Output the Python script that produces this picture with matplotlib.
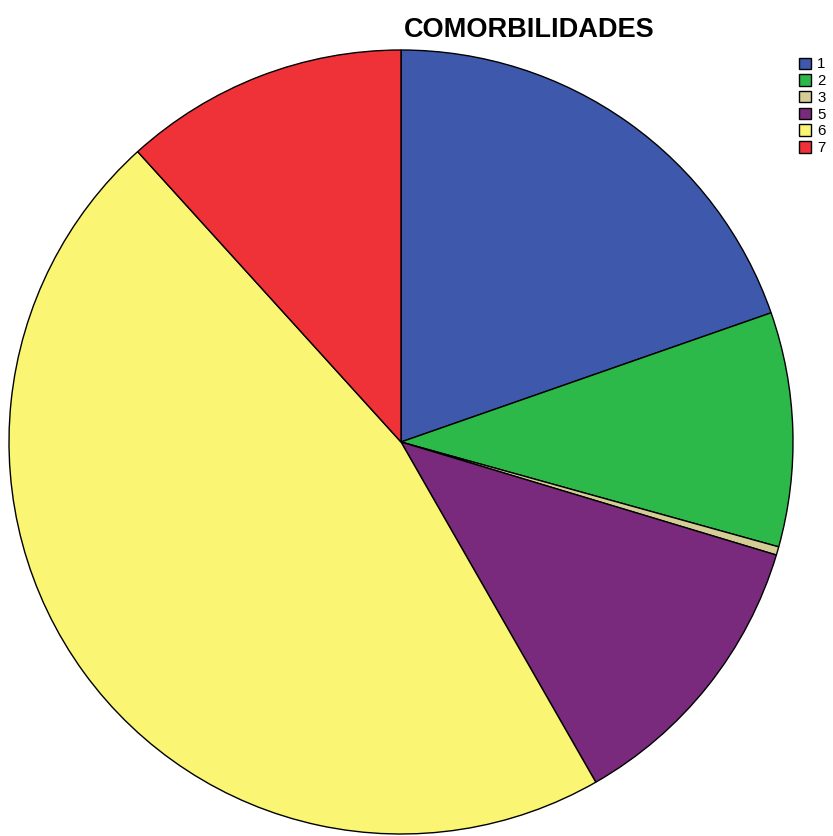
import matplotlib
matplotlib.use('Agg')
import matplotlib.pyplot as plt

# Pie data (counts)
CATEGORIES = ['1', '2', '3', '5', '6', '7']
COUNTS = [57, 28, 1, 35, 135, 34]
COLORS = ['#3E58AC', '#2DB84A', '#D4CE96', '#7A2A7C', '#FAF674', '#EF3238']

plt.rcParams['font.family'] = ['Liberation Sans', 'DejaVu Sans']

fig = plt.figure(figsize=(8.33, 8.36), dpi=100)

# Axes placed so that the pie circle sits where it is in the reference
cx, cy, r = 401, 442, 392
ax = fig.add_axes([(cx - r) / 833, (836 - cy - r) / 836, 2 * r / 833, 2 * r / 836])

wedges, _ = ax.pie(COUNTS, colors=COLORS, startangle=90, counterclock=False,
                   radius=1.0, wedgeprops=dict(edgecolor='black', linewidth=1.0))
ax.set_xlim(-1.0, 1.0)
ax.set_ylim(-1.0, 1.0)
ax.set_aspect('auto')
ax.axis('off')

# Title
fig.text(529 / 833, 1 - 30 / 836, 'COMORBILIDADES', ha='center', va='center',
         fontsize=19.5, fontweight='bold')

# Legend
fig.legend(wedges, CATEGORIES, loc='upper left',
           bbox_to_anchor=(788 / 833, 1 - 47 / 836), frameon=False,
           fontsize=10.8, handlelength=0.8, handleheight=0.8,
           handletextpad=0.45, labelspacing=0.18, borderpad=0.2)

plt.savefig('out.png', dpi=100)
